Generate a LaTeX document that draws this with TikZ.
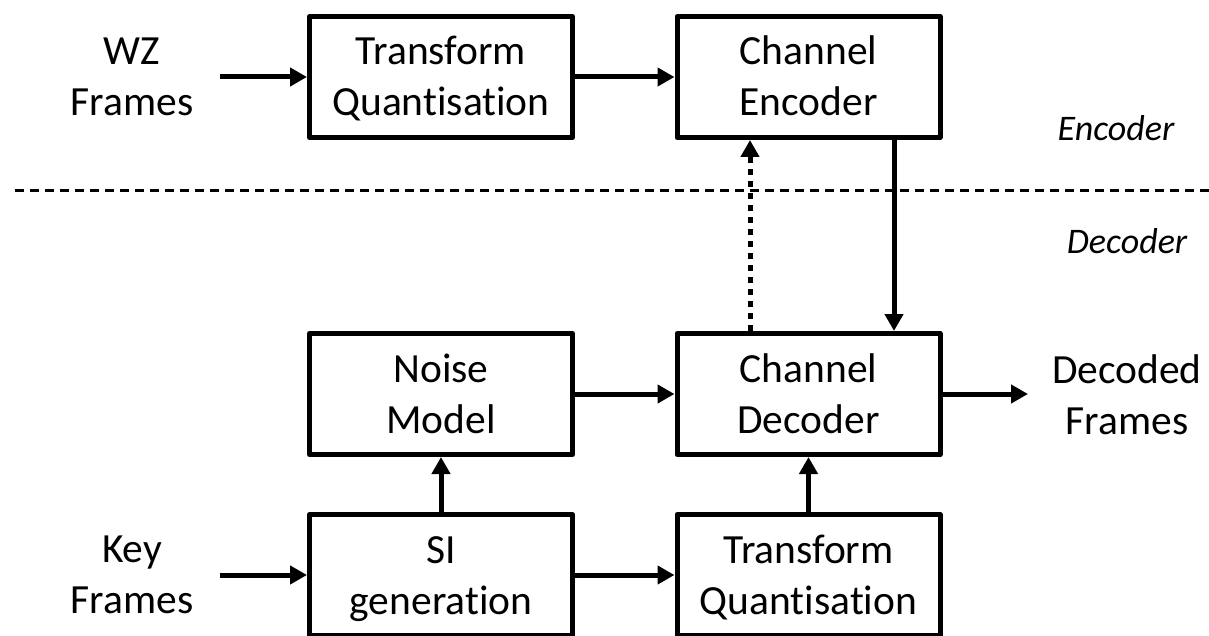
\documentclass[tikz,border=0pt]{standalone}
\usepackage{fontspec}
\setmainfont{Carlito}[Ligatures=NoCommon]
\usetikzlibrary{arrows.meta}

% two centred lines whose baseline is that of the first line
\newcommand{\twolines}[2]{\begin{tabular}[t]{@{}c@{}}#1\\#2\end{tabular}}

\tikzset{
  block/.style={draw, line width=5pt, line join=round, rectangle,
    minimum width=263pt, minimum height=121pt, inner sep=0pt},
  txt/.style={anchor=base, inner sep=0pt,
    font=\fontsize{41.5}{51}\selectfont},
  side/.style={inner sep=0pt, font=\fontsize{36}{40}\selectfont\itshape},
  flow/.style={line width=5pt, -{Triangle[length=17pt,width=18pt]}},
  feedback/.style={flow, dash pattern=on 6pt off 6pt},
  divider/.style={line width=3pt, dash pattern=on 9pt off 6pt}
}

\begin{document}
\begin{tikzpicture}[x=1pt, y=-1pt]
  \useasboundingbox (0,0) rectangle (1209,636);

  % encoder side
  \node[block] (tq1) at (441,77) {};
  \node[block] (ce)  at (808.5,77) {};

  % decoder side
  \node[block] (nm)  at (441,394) {};
  \node[block] (cd)  at (808.5,394) {};
  \node[block] (si)  at (441,575) {};
  \node[block] (tq2) at (808.5,575) {};

  % block captions (first baseline 12pt above the block centre)
  \node[txt] (tq1-t) at ([yshift=12pt]tq1.center) {\twolines{Transform}{Quantisation}};
  \node[txt] (ce-t)  at ([yshift=12pt]ce.center)  {\twolines{Channel}{Encoder}};
  \node[txt] (nm-t)  at ([yshift=12pt]nm.center)  {\twolines{Noise}{Model}};
  \node[txt] (cd-t)  at ([yshift=12pt]cd.center)  {\twolines{Channel}{Decoder}};
  \node[txt] (si-t)  at ([yshift=12pt]si.center)  {\twolines{SI}{generation}};
  \node[txt] (tq2-t) at ([yshift=12pt]tq2.center) {\twolines{Transform}{Quantisation}};

  % frame labels
  \node[txt] (wz)  at (132,65)   {\twolines{WZ}{Frames}};
  \node[txt] (key) at (132,562)  {\twolines{Key}{Frames}};
  \node[txt] (out) at (1127,383) {\twolines{Decoded}{Frames}};

  % side labels
  \node[side] (enc) at (1116,128) {Encoder};
  \node[side] (dec) at (1127,241) {Decoder};

  % encoder/decoder boundary
  \coordinate (divL) at (15,191);
  \coordinate (divR) at (1209,191);
  \draw[divider] (divL) -- (divR);

  % free ends of the input/output arrows
  \coordinate (wzin)  at (220,77);
  \coordinate (keyin) at (220,575);
  \coordinate (dout)  at (1028,394);

  % connectors
  \draw[flow] (wzin) -- (tq1);
  \draw[flow] (tq1) -- (ce);
  \draw[flow] ([xshift=85.5pt]ce.south) -- ([xshift=85.5pt]cd.north);
  \draw[feedback] ([xshift=-58.5pt]cd.north) -- ([xshift=-58.5pt]ce.south);
  \draw[flow] (nm) -- (cd);
  \draw[flow] (cd) -- (dout);
  \draw[flow] (keyin) -- (si);
  \draw[flow] (si) -- (nm);
  \draw[flow] (si) -- (tq2);
  \draw[flow] (tq2) -- (cd);
\end{tikzpicture}
\end{document}
